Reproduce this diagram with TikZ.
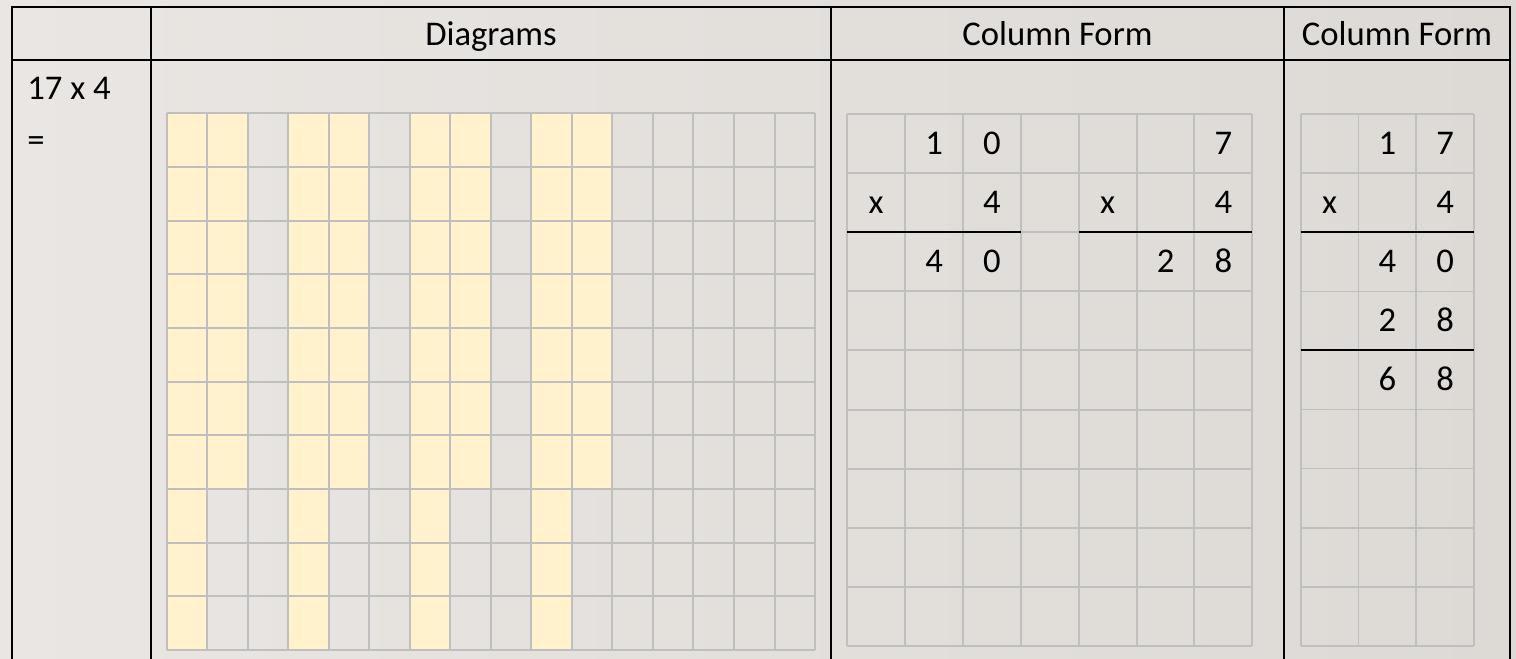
\documentclass[tikz,border=0pt]{standalone}
\usepackage{fontspec}
\setmainfont{Carlito}
\definecolor{bgL}{HTML}{E9E6E3}
\definecolor{bgR}{HTML}{DDDAD5}
\definecolor{gridgray}{HTML}{BFBFBF}
\definecolor{cellyellow}{HTML}{FFF2CC}
\begin{document}
\begin{tikzpicture}[x=0.75pt,y=-0.75pt,
  tableline/.style={line width=1.7pt, black},
  gridline/.style={line width=1.5pt, gridgray},
  thingrid/.style={line width=1.2pt, gridgray},
  sumline/.style={line width=1.5pt, black},
  yellowcell/.style={fill=cellyellow},
  txt/.style={font=\fontsize{26}{31}\selectfont, inner sep=0pt, text=black},
]
\useasboundingbox (0,0) rectangle (1516,658);
\shade[left color=bgL, right color=bgR] (0,0) rectangle (1516,658);

% ---- diagram grid: 16 columns x 10 rows
\foreach \c in {0,3,6,9} {
  \fill[yellowcell] ({166.7+\c*40.52},113.3) rectangle ({166.7+(\c+1)*40.52},650);
  \fill[yellowcell] ({166.7+(\c+1)*40.52},113.3) rectangle ({166.7+(\c+2)*40.52},{113.3+7*53.67});
}
\foreach \c in {0,...,16}
  \draw[gridline] ({166.7+\c*40.52},113.3) -- ({166.7+\c*40.52},650);
\foreach \r in {0,...,10}
  \draw[gridline] (166.7,{113.3+\r*53.67}) -- (815,{113.3+\r*53.67});

% ---- column form grid 1: 7 columns x 9 rows
\foreach \c in {0,...,7}
  \draw[gridline] ({847.3+\c*57.86},114) -- ({847.3+\c*57.86},646);
\foreach \r in {0,...,9}
  \draw[gridline] (847.3,{114+\r*59.11}) -- (1252.3,{114+\r*59.11});
\draw[sumline] (847.3,232.2) -- (1020.9,232.2);
\draw[sumline] (1078.7,232.2) -- (1252.3,232.2);

% ---- column form grid 2: 3 columns x 9 rows
\foreach \c in {0,...,3}
  \draw[thingrid] ({1300.7+\c*57.77},114) -- ({1300.7+\c*57.77},646);
\foreach \r in {0,...,9}
  \draw[thingrid] (1300.7,{114+\r*59.11}) -- (1474,{114+\r*59.11});
\draw[sumline] (1300.7,232.2) -- (1474,232.2);
\draw[sumline] (1300.7,350.4) -- (1474,350.4);

% ---- table frame
\draw[tableline] (12,664) -- (12,7) -- (1510,7) -- (1510,664);
\draw[tableline] (12,60) -- (1510,60);
\foreach \x in {151,831,1284}
  \draw[tableline] (\x,7) -- (\x,664);

% ---- texts
\node[txt, anchor=base] (hdiag) at (491,45.7) {Diagrams};
\node[txt, anchor=base] (hcfa) at (1057.5,45.7) {Column Form};
\node[txt, anchor=base] (hcfb) at (1397,45.7) {Column Form};
\node[txt, anchor=base west] (prob) at (27,99.3) {17 x 4};
\node[txt, anchor=base west] (eqs) at (27,151) {=};

\foreach \r/\c/\t [count=\i] in {0/1/1, 0/2/0, 0/6/7, 1/0/x, 1/2/4, 1/4/x, 1/6/4,
                                 2/1/4, 2/2/0, 2/5/2, 2/6/8}
  \node[txt, anchor=base] (ga\i) at ({847.3+(\c+0.5)*57.86},{114+(\r+0.5)*59.11+10.5}) {\t};

\foreach \r/\c/\t [count=\i] in {0/1/1, 0/2/7, 1/0/x, 1/2/4, 2/1/4, 2/2/0,
                                 3/1/2, 3/2/8, 4/1/6, 4/2/8}
  \node[txt, anchor=base] (gb\i) at ({1300.7+(\c+0.5)*57.77},{114+(\r+0.5)*59.11+10.5}) {\t};
\end{tikzpicture}
\end{document}
